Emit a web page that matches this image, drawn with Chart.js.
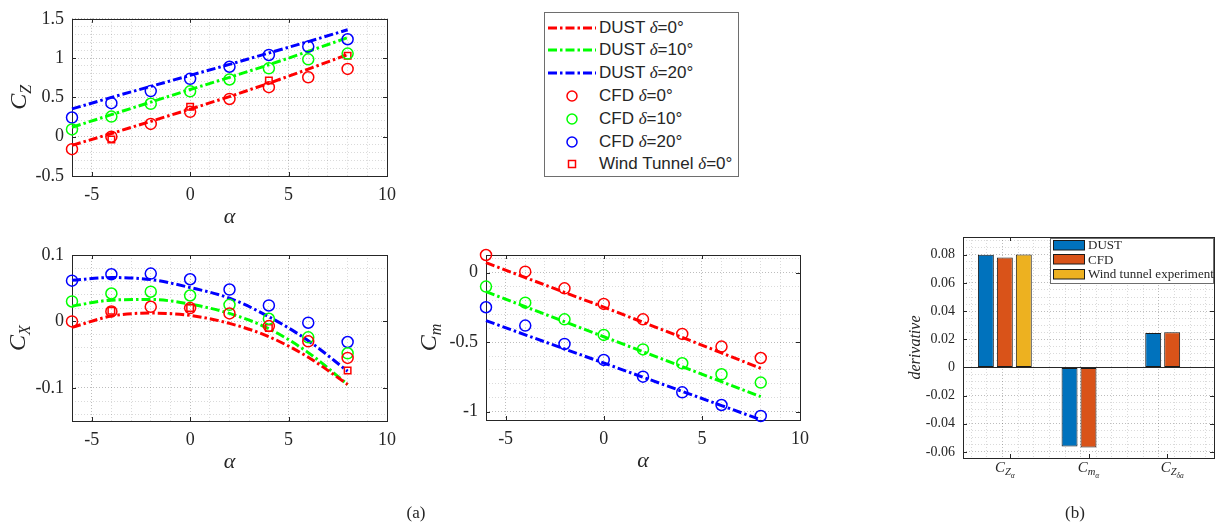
<!DOCTYPE html>
<html lang="en">
<head>
<meta charset="UTF-8">
<title>DUST / CFD / Wind tunnel comparison</title>
<script src="https://cdn.jsdelivr.net/npm/chart.js"></script>
<style>
  body { margin: 0; background: #fff; }
  #page { position: relative; width: 1217px; height: 529px; overflow: hidden; color: #262626; font-family: "Liberation Serif", serif; }
  #page canvas { position: absolute; left: 0; top: 0; }
  .box { position: absolute; background: #fff; border: 1px solid #6e6e6e; box-sizing: border-box; }
  .row { position: absolute; left: 0; right: 0; height: 22px; }
  .row svg { position: absolute; top: 5px; }
  .row span { position: absolute; white-space: nowrap; }
  .cap { position: absolute; font-size: 17px; transform: translate(-50%, -50%); }
</style>
</head>
<body>
<div id="page">
  <canvas id="cz" width="1217" height="529"></canvas>
  <canvas id="cx" width="1217" height="529"></canvas>
  <canvas id="cm" width="1217" height="529"></canvas>
  <canvas id="der" width="1217" height="529"></canvas>
  <div class="box" id="legA" style="left:544px; top:12px; width:195px; height:165px;"></div>
  <div class="box" id="legB" style="left:1050px; top:238px; width:164px; height:46px;"></div>
  <div class="cap" style="left:416px; top:513px;">(a)</div>
  <div class="cap" style="left:1075px; top:513px;">(b)</div>
</div>
<script>
// angle of attack and deflection cases
const alpha = [-6, -4, -2, 0, 2, 4, 6, 8];
const alphaWT = [-4, 0, 4, 8];
const deltaLabels = ['0°', '10°', '20°'];
const seriesColors = ['#ff0000', '#00ff00', '#0000ff'];

// C_Z
const czDust0 = [-0.11, 0.04, 0.195, 0.35, 0.51, 0.68, 0.86, 1.045];
const czDust10 = [0.12, 0.28, 0.44, 0.60, 0.755, 0.915, 1.085, 1.26];
const czDust20 = [0.354, 0.50, 0.64, 0.78, 0.92, 1.065, 1.21, 1.36];
const czCfd0 = [-0.159, 0.0, 0.163, 0.317, 0.48, 0.63, 0.756, 0.862];
const czCfd10 = [0.093, 0.256, 0.419, 0.577, 0.728, 0.87, 0.984, 1.057];
const czCfd20 = [0.244, 0.427, 0.58, 0.736, 0.89, 1.04, 1.146, 1.24];
const czWT0 = [-0.035, 0.38, 0.715, 1.03];

// C_X
const cxDust0 = [-0.009, 0.008, 0.0125, 0.009, -0.003, -0.023, -0.054, -0.095];
const cxDust10 = [0.023, 0.032, 0.033, 0.026, 0.012, -0.011, -0.047, -0.095];
const cxDust20 = [0.062, 0.066, 0.063, 0.051, 0.035, 0.007, -0.029, -0.075];
const cxCfd0 = [0.0, 0.015, 0.022, 0.02, 0.012, -0.007, -0.03, -0.055];
const cxCfd10 = [0.030, 0.042, 0.0447, 0.039, 0.025, 0.004, -0.024, -0.048];
const cxCfd20 = [0.0614, 0.071, 0.072, 0.0635, 0.048, 0.024, -0.002, -0.031];
const cxWT0 = [0.016, 0.02, -0.01, -0.074];

// C_m
const cmDust0 = [0.072, -0.035, -0.142, -0.248, -0.357, -0.466, -0.577, -0.688];
const cmDust10 = [-0.137, -0.245, -0.353, -0.461, -0.569, -0.676, -0.784, -0.892];
const cmDust20 = [-0.345, -0.447, -0.549, -0.65, -0.752, -0.854, -0.956, -1.058];
const cmCfd0 = [0.127, 0.007, -0.113, -0.225, -0.336, -0.441, -0.532, -0.614];
const cmCfd10 = [-0.1, -0.216, -0.336, -0.448, -0.552, -0.652, -0.731, -0.791];
const cmCfd20 = [-0.249, -0.381, -0.513, -0.628, -0.748, -0.861, -0.952, -1.031];

// derivatives (b)
const derivCats = ['CZa', 'Cma', 'CZda'];
const derivNames = ['DUST', 'CFD', 'Wind tunnel experiment'];
const derivColors = ['#0072BD', '#D95319', '#EDB120'];
const derivDust = [0.0800, -0.0561, 0.0244];
const derivCfd = [0.0781, -0.0568, 0.0249];
const derivWT = [0.0802, 0, 0];

const W = 1217, H = 529, AXW = 60, AXH = 50;
const SERIF = '"Liberation Serif", "Times New Roman", serif';
const DASHDOT = [9, 3, 2.5, 3];
const MAJ = 'rgba(38,38,38,0.30)', MIN = 'rgba(38,38,38,0.17)';

Chart.defaults.font.family = SERIF;
Chart.defaults.color = '#262626';

function near(v, step) { return Math.abs(v / step - Math.round(v / step)) < 1e-6; }
function stepList(a, b, step) {
  const out = [];
  for (let k = Math.ceil(a / step - 1e-9); k <= Math.floor(b / step + 1e-9); k++) out.push(Math.round(k * step * 1e6) / 1e6);
  return out;
}
function fmt(v) { return String(Math.round(v * 1e6) / 1e6); }
const pts = (xs, ys) => xs.map((x, i) => ({ x, y: ys[i] }));

function drawParts(ctx, parts, x, y) {
  const f = p => (p[3] === false ? '' : 'italic ') + p[1] + 'px ' + SERIF;
  let w = 0;
  parts.forEach(p => { ctx.font = f(p); w += ctx.measureText(p[0]).width; });
  let cx = x - w / 2;
  ctx.textAlign = 'left';
  ctx.textBaseline = 'alphabetic';
  parts.forEach(p => { ctx.font = f(p); ctx.fillText(p[0], cx, y + p[2]); cx += ctx.measureText(p[0]).width; });
}

// box around the axes, inward ticks, optional zero baseline
function frameFor(xMajor, yMajor, xKey, baseline) {
  return {
    id: 'frame',
    beforeDatasetsDraw(chart) {
      const { ctx, chartArea: a } = chart;
      const xs = chart.scales[xKey], ys = chart.scales.y;
      ctx.save();
      ctx.strokeStyle = '#262626';
      ctx.lineWidth = 1;
      if (baseline) {
        const y0 = Math.round(ys.getPixelForValue(0)) + 0.5;
        ctx.beginPath(); ctx.moveTo(a.left, y0); ctx.lineTo(a.right, y0); ctx.stroke();
      }
      ctx.beginPath();
      stepList(xs.min, xs.max, xMajor).forEach(v => {
        const p = Math.round(xs.getPixelForValue(v)) + 0.5;
        ctx.moveTo(p, a.bottom); ctx.lineTo(p, a.bottom - 4);
        ctx.moveTo(p, a.top); ctx.lineTo(p, a.top + 4);
      });
      stepList(ys.min, ys.max, yMajor).forEach(v => {
        const p = Math.round(ys.getPixelForValue(v)) + 0.5;
        ctx.moveTo(a.left, p); ctx.lineTo(a.left + 4, p);
        ctx.moveTo(a.right, p); ctx.lineTo(a.right - 4, p);
      });
      ctx.stroke();
      ctx.strokeRect(Math.round(a.left) + 0.5, Math.round(a.top) + 0.5, Math.round(a.width), Math.round(a.height));
      ctx.restore();
    }
  };
}

function textFor(spec) {
  return {
    id: 'axisText',
    afterDraw(chart) {
      const { ctx, chartArea: a } = chart;
      ctx.save();
      ctx.fillStyle = '#262626';
      if (spec.x) drawParts(ctx, spec.x, (a.left + a.right) / 2, a.bottom + spec.xOff);
      if (spec.y) {
        ctx.save();
        ctx.translate(a.left - spec.yOff, (a.top + a.bottom) / 2);
        ctx.rotate(-Math.PI / 2);
        drawParts(ctx, spec.y, 0, spec.yBase);
        ctx.restore();
      }
      if (spec.ticks) {
        const s = chart.scales.x;
        spec.ticks.forEach((p, i) => drawParts(ctx, p, s.getPixelForTick(i), a.bottom + spec.tickOff));
      }
      ctx.restore();
    }
  };
}

function axis(range, step, major, dir, size) {
  return {
    type: 'linear', min: range[0], max: range[1],
    afterBuildTicks(s) { s.ticks = stepList(range[0], range[1], step).map(v => ({ value: v })); },
    afterFit(s) { if (dir === 'x') s.height = AXH; else s.width = AXW; },
    ticks: { padding: 8, color: '#262626', font: { family: SERIF, size: size }, autoSkip: false, maxRotation: 0,
      callback: v => near(v, major) ? fmt(v) : '' },
    grid: { drawTicks: false, color: c => (c.tick && near(c.tick.value, major)) ? MAJ : MIN },
    border: { display: false, dash: [1, 2] }
  };
}

function padFor(box) {
  const [L, T, R, B] = box;
  return { left: L - AXW, top: T, right: W - R, bottom: H - B - AXH };
}

function dustSet(ys, color, smooth) {
  return { data: pts(alpha, ys), showLine: true, borderColor: color, borderWidth: 3, borderDash: DASHDOT,
    pointRadius: 0, tension: smooth ? 0.4 : 0, cubicInterpolationMode: smooth ? 'monotone' : 'default', clip: false, order: 2 };
}
function markSet(xs, ys, color, style) {
  return { data: pts(xs, ys), showLine: false, pointStyle: style, pointRadius: style === 'rect' ? 4.6 : 5.5,
    borderColor: color, backgroundColor: 'rgba(0,0,0,0)', borderWidth: 1.5, pointBorderWidth: 1.5, clip: false, order: 1 };
}

function panel(id, box, yRange, yStep, yMajor, sets, yParts, yOff) {
  return new Chart(document.getElementById(id), {
    type: 'scatter',
    data: { datasets: sets },
    options: {
      responsive: false, animation: false, events: [],
      layout: { padding: padFor(box) },
      plugins: { legend: { display: false }, tooltip: { enabled: false } },
      scales: { x: axis([-6, 10], 1, 5, 'x', 18), y: axis(yRange, yStep, yMajor, 'y', 18) }
    },
    plugins: [frameFor(5, yMajor, 'x', false), textFor({ x: [['α', 22, 0]], xOff: 47, y: yParts, yOff, yBase: 8 })]
  });
}

const [R, G, B] = seriesColors;

panel('cz', [72, 12, 387, 176], [-0.5, 1.5], 0.1, 0.5, [
  markSet(alpha, czCfd0, R, 'circle'), markSet(alpha, czCfd10, G, 'circle'), markSet(alpha, czCfd20, B, 'circle'),
  markSet(alphaWT, czWT0, R, 'rect'),
  dustSet(czDust0, R, false), dustSet(czDust10, G, false), dustSet(czDust20, B, false)
], [['C', 24, 0], ['Z', 16, 5]], 54);

panel('cx', [72, 255, 387, 421], [-0.15, 0.1], 0.02, 0.1, [
  markSet(alpha, cxCfd0, R, 'circle'), markSet(alpha, cxCfd10, G, 'circle'), markSet(alpha, cxCfd20, B, 'circle'),
  markSet(alphaWT, cxWT0, R, 'rect'),
  dustSet(cxDust0, R, true), dustSet(cxDust10, G, true), dustSet(cxDust20, B, true)
], [['C', 24, 0], ['X', 16, 5]], 55);

panel('cm', [486, 255, 800, 420], [-1.06, 0.127], 0.1, 0.5, [
  markSet(alpha, cmCfd0, R, 'circle'), markSet(alpha, cmCfd10, G, 'circle'), markSet(alpha, cmCfd20, B, 'circle'),
  dustSet(cmDust0, R, false), dustSet(cmDust10, G, false), dustSet(cmDust20, B, false)
], [['C', 24, 0], ['m', 16, 5]], 58);

// (b) bar chart of derivatives
const derivTickParts = [
  [['C', 15, 0], ['Z', 10.5, 3], ['α', 7.5, 6]],
  [['C', 15, 0], ['m', 10.5, 3], ['α', 7.5, 6]],
  [['C', 15, 0], ['Z', 10.5, 3], ['δa', 7.5, 6]]
];

new Chart(document.getElementById('der'), {
  type: 'bar',
  data: {
    labels: derivCats,
    datasets: [derivDust, derivCfd, derivWT].map((d, i) => ({
      label: derivNames[i], data: d, backgroundColor: derivColors[i], borderColor: '#1a1a1a', borderWidth: 1,
      borderSkipped: false, categoryPercentage: 0.68, barPercentage: 0.84
    }))
  },
  options: {
    responsive: false, animation: false, events: [],
    layout: { padding: padFor([963, 237, 1214, 458]) },
    plugins: { legend: { display: false }, tooltip: { enabled: false } },
    scales: {
      x: { type: 'category', offset: true, grid: { display: false }, ticks: { display: false }, border: { display: false },
        afterFit(s) { s.height = AXH; } },
      x2: { type: 'linear', position: 'top', min: 0.5, max: 3.5,
        afterBuildTicks(s) { s.ticks = stepList(0.5, 3.5, 0.2).map(v => ({ value: v })); },
        afterFit(s) { s.height = 0; },
        ticks: { display: false },
        grid: { drawTicks: false, color: c => (c.tick && near(c.tick.value, 1)) ? MAJ : MIN },
        border: { display: false, dash: [1, 2] } },
      y: axis([-0.0643, 0.0926], 0.005, 0.02, 'y', 14)
    }
  },
  plugins: [frameFor(1, 0.02, 'x2', true),
    textFor({ y: [['derivative', 16, 0]], yOff: 48, yBase: 5, ticks: derivTickParts, tickOff: 14 })]
});

// legend (a)
const legA = document.getElementById('legA');
const rowsA = [];
deltaLabels.forEach((d, i) => rowsA.push({ kind: 'line', color: seriesColors[i], name: 'DUST', d }));
deltaLabels.forEach((d, i) => rowsA.push({ kind: 'circle', color: seriesColors[i], name: 'CFD', d }));
rowsA.push({ kind: 'rect', color: seriesColors[0], name: 'Wind Tunnel', d: deltaLabels[0] });
rowsA.forEach((r, i) => {
  let icon;
  if (r.kind === 'line') icon = `<line x1="0" y1="6" x2="48" y2="6" stroke="${r.color}" stroke-width="3" stroke-dasharray="${DASHDOT.join(' ')}"/>`;
  else if (r.kind === 'circle') icon = `<circle cx="24" cy="6" r="5" fill="none" stroke="${r.color}" stroke-width="1.5"/>`;
  else icon = `<rect x="20.5" y="2.5" width="7" height="7" fill="none" stroke="${r.color}" stroke-width="1.5"/>`;
  const row = document.createElement('div');
  row.className = 'row';
  row.style.top = (3.5 + i * 22.8) + 'px';
  row.innerHTML = `<svg width="48" height="12" style="left:3px">${icon}</svg>` +
    `<span style="left:54px; top:0; font:17px 'Liberation Sans', Arial, sans-serif; line-height:22px;">${r.name} ` +
    `<i style="font-family:'Liberation Serif', serif;">δ</i>=${r.d}</span>`;
  legA.appendChild(row);
});

// legend (b)
const legB = document.getElementById('legB');
derivNames.forEach((n, i) => {
  const row = document.createElement('div');
  row.className = 'row';
  row.style.top = (-1 + i * 14.5) + 'px';
  row.style.height = '14px';
  row.innerHTML = `<svg width="33" height="11" style="left:2px; top:1.5px"><rect x="0.5" y="0.5" width="31" height="9.5" fill="${derivColors[i]}" stroke="#1a1a1a" stroke-width="1"/></svg>` +
    `<span style="left:37px; top:0; font-size:13px; line-height:14px;">${n}</span>`;
  legB.appendChild(row);
});
</script>
</body>
</html>
